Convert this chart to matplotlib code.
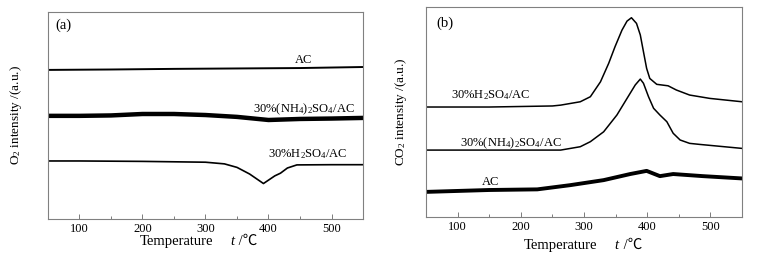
import matplotlib
matplotlib.use("Agg")
import matplotlib.pyplot as plt

plt.rcParams['font.family'] = ['Liberation Serif', 'Noto Sans CJK SC']
plt.rcParams['mathtext.fontset'] = 'custom'
plt.rcParams['mathtext.rm'] = 'Liberation Serif'
plt.rcParams['mathtext.it'] = 'Liberation Serif:italic'
plt.rcParams['font.size'] = 9

# ---- panel (a): O2 signals ----
a_ac_t = [50, 150, 250, 350, 450, 550]
a_ac_y = [72.0, 72.2, 72.5, 72.7, 72.9, 73.4]

a_nh4_t = [50, 100, 150, 200, 250, 300, 350, 400, 450, 500, 550]
a_nh4_y = [49.8, 49.8, 50.0, 50.7, 50.7, 50.2, 49.3, 47.8, 48.3, 48.5, 48.8]

a_h2so4_t = [50, 100, 200, 300, 330, 350, 370, 392, 410, 419, 430, 445, 500, 550]
a_h2so4_y = [28.0, 28.0, 27.8, 27.4, 26.6, 24.9, 21.7, 17.1, 20.8, 22.1, 24.6, 26.1, 26.2, 26.2]

# ---- panel (b): CO2 signals ----
b_h2so4_t = [50, 150, 250, 263, 294, 310, 326, 339, 349, 360, 368, 375, 383, 389,
             394, 399, 404, 415, 433, 446, 467, 483, 499, 550]
b_h2so4_y = [52.4, 52.4, 52.9, 53.3, 54.9, 57.3, 64.4, 73.2, 81.1, 89.0, 93.3, 94.9,
             92.2, 86.7, 78.7, 70.8, 66.0, 63.2, 62.5, 60.5, 58.1, 57.3, 56.5, 54.9]

b_nh4_t = [50, 150, 263, 294, 310, 331, 352, 368, 381, 389, 394, 402, 410, 420,
           431, 441, 452, 467, 483, 550]
b_nh4_y = [31.9, 31.9, 31.9, 33.5, 35.9, 40.6, 48.6, 56.5, 62.9, 65.7, 63.7, 57.3,
           51.8, 48.6, 45.4, 39.9, 36.7, 35.1, 34.6, 32.7]

b_ac_t = [50, 150, 226, 278, 331, 373, 399, 420, 441, 488, 550]
b_ac_y = [12.0, 12.9, 13.2, 15.2, 17.6, 20.5, 22.0, 19.5, 20.5, 19.5, 18.4]

xticks = [100, 200, 300, 400, 500]


def style_axes(ax, ylabel, ylab_x, xlab_pos):
    ax.set_xlim(50, 550)
    ax.set_ylim(0, 100)
    ax.set_xticks(xticks)
    ax.set_xticks(range(50, 551, 50), minor=True)
    ax.set_yticks([])
    ax.tick_params(axis='x', which='major', direction='in', length=3.5,
                   width=0.6, color='#666666', pad=3, labelsize=9)
    ax.tick_params(axis='x', which='minor', direction='in', length=2,
                   width=0.6, color='#666666')
    for sp in ax.spines.values():
        sp.set_color('#808080')
        sp.set_linewidth(0.8)
    ax.set_ylabel(ylabel, fontsize=9.5)
    ax.yaxis.set_label_coords(ylab_x, 0.5)
    # x label: "Temperature    t /℃"
    tx, ttx, ty = xlab_pos
    ax.text(tx, ty, 'Temperature', transform=ax.transAxes, ha='center',
            va='center', fontsize=10.5)
    ax.text(ttx, ty, 't', transform=ax.transAxes, ha='left', va='center',
            fontsize=10.5, style='italic')
    ax.text(ttx + 0.017, ty, ' /℃', transform=ax.transAxes, ha='left',
            va='center', fontsize=10.5)


fig = plt.figure(figsize=(7.58, 2.6), dpi=100)
ax1 = fig.add_axes([0.0633, 0.158, 0.4156, 0.796])
ax2 = fig.add_axes([0.562, 0.165, 0.417, 0.808])

ax1.plot(a_ac_t, a_ac_y, color='black', lw=1.4)
ax1.plot(a_nh4_t, a_nh4_y, color='black', lw=3.2)
ax1.plot(a_h2so4_t, a_h2so4_y, color='black', lw=1.2)
ax1.text(455, 75.2, 'AC', ha='center', va='baseline')
ax1.text(456, 51.4, r'30%(NH$_4$)$_2$SO$_4$/AC', ha='center', va='baseline')
ax1.text(463, 29.8, r'30%H$_2$SO$_4$/AC', ha='center', va='baseline')
ax1.text(0.022, 0.937, '(a)', transform=ax1.transAxes, ha='left', va='center',
         fontsize=10.5)
style_axes(ax1, r'O$_2$ intensity /(a.u.)', -0.076, (0.408, 0.578, -0.11))

ax2.plot(b_h2so4_t, b_h2so4_y, color='black', lw=1.1)
ax2.plot(b_nh4_t, b_nh4_y, color='black', lw=1.1)
ax2.plot(b_ac_t, b_ac_y, color='black', lw=2.8)
ax2.text(152, 56.7, r'30%H$_2$SO$_4$/AC', ha='center', va='baseline')
ax2.text(184, 33.8, r'30%(NH$_4$)$_2$SO$_4$/AC', ha='center', va='baseline')
ax2.text(152, 15.2, 'AC', ha='center', va='baseline')
ax2.text(0.032, 0.924, '(b)', transform=ax2.transAxes, ha='left', va='center',
         fontsize=10.5)
style_axes(ax2, r'CO$_2$ intensity /(a.u.)', -0.054, (0.427, 0.597, -0.133))

fig.savefig('out.png', dpi=100)
